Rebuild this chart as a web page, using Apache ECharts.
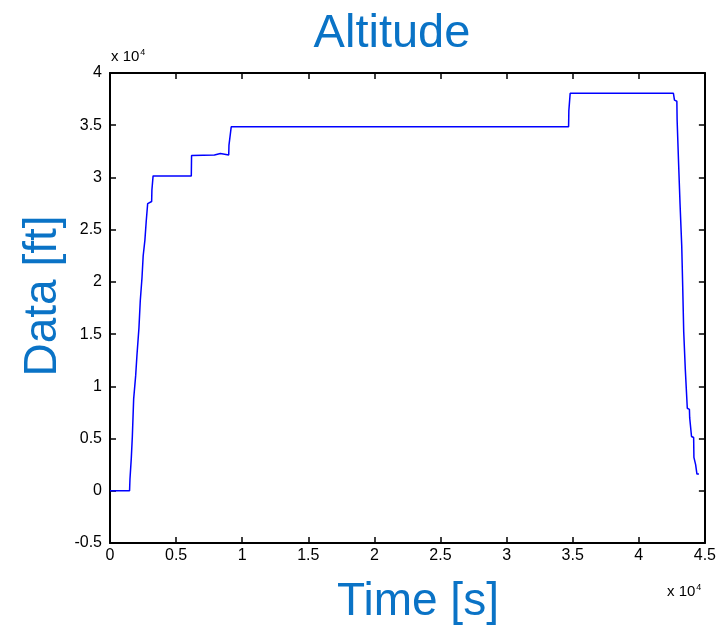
<!DOCTYPE html>
<html>
<head>
<meta charset="utf-8">
<script src="https://cdn.jsdelivr.net/npm/echarts@6/dist/echarts.min.js"></script>
<style>
  html, body { margin: 0; padding: 0; background: #fff; }
  #chart { width: 719px; height: 626px; }
</style>
</head>
<body>
<div id="chart"></div>
<script>
var myChart = echarts.init(document.getElementById('chart'));

// time [s] and altitude [ft]
var timeData = [
    0, 1480, 1510, 1590, 1610, 1670, 1690, 1770, 1790, 1920, 1940, 2020, 2040, 2170,
    2190, 2270, 2290, 2400, 2420, 2490, 2510, 2620, 2640, 2720, 2740, 2830, 2850, 3000,
    3150, 3170, 3240, 3260, 6150, 6170, 6250, 7900, 7950, 8350, 8400, 8980, 9000, 9150,
    9170, 31000, 31050, 31100, 34690, 34710, 34790, 34810, 42620, 42700, 42880, 42900,
    42990, 43010, 43100, 43120, 43230, 43250, 43300, 43320, 43380, 43400, 43500, 43520,
    43650, 43670, 43830, 43850, 43970, 43990, 44150, 44170, 44280, 44300, 44380, 44400, 44550
];
var altData = [
    0, 0, 1100, 1150, 3100, 3200, 5200, 5300, 8800, 8900, 11000, 11100, 13000, 13100,
    15600, 15700, 18200, 18300, 20400, 20500, 22500, 22600, 24000, 24100, 25800, 25900, 27500, 27600,
    27700, 28800, 28900, 30150, 30150, 32100, 32150, 32150, 32300, 32300, 32150, 32150, 33100, 33200,
    34850, 34850, 34700, 34850, 34850, 36400, 36500, 38050, 38050, 37400, 37300, 35500,
    35400, 31400, 31300, 27500, 27400, 23400, 23300, 19700, 19600, 15200, 15100, 11600,
    11500, 7900, 7800, 7000, 6900, 5200, 5100, 3200, 3100, 2500, 2400, 1600, 1600
];

// axis ranges (x 10^4)
var xMin = 0, xMax = 45000, xStep = 5000;
var yMin = -5000, yMax = 40000, yStep = 5000;

var seriesData = [];
for (var i = 0; i < timeData.length; i++) {
    seriesData.push([timeData[i], altData[i]]);
}

function tickLabel(v) {
    return String(Math.round(v / 1000) / 10);
}

var blue = '#0a73c6';
var labelFont = { color: '#000', fontSize: 16, fontFamily: 'Liberation Sans, Arial, sans-serif' };

function boxAxis(extra) {
    return Object.assign({
        type: 'value',
        axisLine: { show: true, onZero: false, lineStyle: { color: '#000', width: 2 } },
        axisTick: { show: true, inside: true, length: 6, lineStyle: { color: '#000', width: 1.5 } },
        splitLine: { show: false }
    }, extra);
}

var option = {
    animation: false,
    backgroundColor: '#fff',
    grid: { left: 110, top: 73, width: 598, height: 470, show: false },
    xAxis: [
        boxAxis({ min: xMin, max: xMax, interval: xStep,
            axisLabel: Object.assign({ formatter: tickLabel, margin: 5 }, labelFont) }),
        boxAxis({ position: 'top', min: xMin, max: xMax, interval: xStep, axisLabel: { show: false } })
    ],
    yAxis: [
        boxAxis({ min: yMin, max: yMax, interval: yStep,
            axisLabel: Object.assign({ formatter: tickLabel, margin: 8 }, labelFont) }),
        boxAxis({ position: 'right', min: yMin, max: yMax, interval: yStep, axisLabel: { show: false } })
    ],
    graphic: [{
        type: 'text', x: 392, y: 34,
        style: { text: 'Altitude', fill: blue, font: '47px Liberation Sans, Arial, sans-serif', align: 'center', verticalAlign: 'middle' }
    }, {
        type: 'text', x: 418, y: 602,
        style: { text: 'Time [s]', fill: blue, font: '46px Liberation Sans, Arial, sans-serif', align: 'center', verticalAlign: 'middle' }
    }, {
        type: 'text', x: 43, y: 296, rotation: Math.PI / 2,
        style: { text: 'Data [ft]', fill: blue, font: '46px Liberation Sans, Arial, sans-serif', align: 'center', verticalAlign: 'middle' }
    }, {
        type: 'text', x: 111, y: 48,
        style: {
            text: 'x 10{sup|4}', fill: '#000', font: '15px Liberation Sans, Arial, sans-serif',
            rich: { sup: { fontSize: 9, verticalAlign: 'top', padding: [0, 0, 8, 1] } }
        }
    }, {
        type: 'text', x: 667, y: 583,
        style: {
            text: 'x 10{sup|4}', fill: '#000', font: '15px Liberation Sans, Arial, sans-serif',
            rich: { sup: { fontSize: 9, verticalAlign: 'top', padding: [0, 0, 8, 1] } }
        }
    }],
    series: [{
        type: 'line',
        xAxisIndex: 0,
        yAxisIndex: 0,
        data: seriesData,
        showSymbol: false,
        lineStyle: { color: '#0000ff', width: 1.5 },
        silent: true
    }]
};

myChart.setOption(option);
</script>
</body>
</html>
